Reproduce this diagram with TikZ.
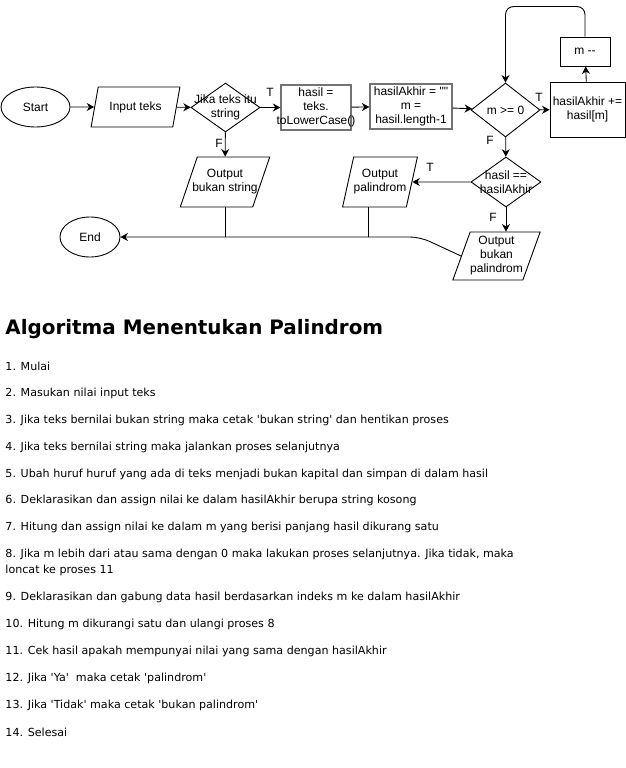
\documentclass[tikz,border=0pt]{standalone}
\usepackage{fontspec}
\setmainfont{Liberation Sans}[Ligatures=TeXOff]
\newfontfamily\listfont{DejaVu Sans}[Ligatures=TeXOff]
\usepackage{tikz}
\usetikzlibrary{positioning, shapes.geometric, arrows.meta}
\newcommand{\nw}[1]{\makebox[0pt]{#1}}

\begin{document}
\begin{tikzpicture}[x=1pt, y=-1pt, line width=0.9pt,
    every node/.style={font=\fontsize{12}{14}\selectfont},
    terminal/.style={draw, ellipse, inner sep=0pt},
    io/.style={draw, trapezium, trapezium left angle=66, trapezium right angle=114, trapezium stretches=true, inner sep=0pt, align=center},
    decision/.style={draw, diamond, inner sep=0pt, align=center},
    process/.style={draw, rectangle, inner sep=0pt, align=center},
    grayproc/.style={process, draw=black!55, line width=1.3pt},
    arrow/.style={-{Stealth[length=7.5pt, width=8pt]}},
    lbl/.style={inner sep=0pt},
    listitem/.style={anchor=west, inner sep=0pt, align=left, font=\listfont\fontsize{11.1}{16}\selectfont}]
    \useasboundingbox (0,0) rectangle (626,768);

    % Flowchart, first row
    \node[terminal, minimum width=69, minimum height=40] (start) at (35.5,107) {Start};
    \node[io, minimum width=89, minimum height=40] (input) at (135.5,107) {Input teks};
    \node[decision, minimum width=69, minimum height=49] (isstr) at (225.5,107.5) {\nw{Jika teks itu}\\\nw{string}};
    \node[grayproc, minimum width=70, minimum height=45] (lower) at (316,107.5) {hasil =\\teks.\\\nw{toLowerCase()}};
    \node[grayproc, minimum width=82, minimum height=45] (init) at (411,106.5) {\nw{hasilAkhir = ""}\\m =\\\nw{hasil.length-1}};
    \node[decision, minimum width=69, minimum height=54] (loopchk) at (505.5,110) {m >= 0};
    \node[process, minimum width=75, minimum height=55] (append) at (587.5,109.5) {\nw{hasilAkhir +=}\\hasil[m]};
    \node[process, minimum width=50, minimum height=29] (decr) at (585,51.5) {m -{}-};

    % Flowchart, lower part
    \node[io, minimum width=90, minimum height=50] (nostr) at (225,182) {Output\\\nw{bukan string}};
    \node[decision, minimum width=70, minimum height=50] (cmp) at (506,182) {\nw{hasil ==}\\\nw{hasilAkhir}};
    \node[io, minimum width=74, minimum height=50] (palin) at (380,182) {Output\\palindrom};
    \node[io, minimum width=87, minimum height=48] (notpalin) at (496.5,256) {Output\\bukan\\palindrom};
    \node[terminal, minimum width=60, minimum height=40] (end) at (90,237) {End};
    \coordinate (bend) at (420,237);

    % Branch labels
    \node[lbl] (t1) at (270,92) {T};
    \node[lbl] (f1) at (219,143) {F};
    \node[lbl] (t2) at (539,97) {T};
    \node[lbl] (f2) at (490,140) {F};
    \node[lbl] (t3) at (430,167) {T};
    \node[lbl] (f3) at (493,217) {F};

    % Connectors
    \draw[arrow] (start) -- (input);
    \draw[arrow] (input) -- (isstr);
    \draw[arrow] (isstr) -- (lower);
    \draw[arrow] (isstr) -- (nostr);
    \draw[arrow] (lower) -- (init);
    \draw[arrow] (init) -- (loopchk);
    \draw[arrow] (loopchk) -- (append);
    \draw[arrow] (append) -- (decr);
    \draw[arrow, rounded corners=8pt] (decr.north) -- ++(0,-30) -| (loopchk.north);
    \draw[arrow] (loopchk) -- (cmp);
    \draw[arrow] (cmp) -- (palin);
    \draw[arrow] (cmp.south) -- (cmp.south |- notpalin.north);
    \draw[arrow, rounded corners=10pt] (notpalin.west) -- (bend) -- (end);
    \draw (nostr.south) -- (nostr.south |- end);
    \draw ([xshift=-12pt]palin.south) -- ([xshift=-12pt]palin.south |- end);

    % Algorithm text
    \node[anchor=west, inner sep=0pt, font=\listfont\bfseries\fontsize{19.9}{24}\selectfont] (title) at (5,329) {Algoritma Menentukan Palindrom};
    \foreach \y/\txt [count=\i] in {366/{1. Mulai},
        393/{2. Masukan nilai input teks},
        420/{3. Jika teks bernilai bukan string maka cetak 'bukan string' dan hentikan proses},
        447/{4. Jika teks bernilai string maka jalankan proses selanjutnya},
        474/{5. Ubah huruf huruf yang ada di teks menjadi bukan kapital dan simpan di dalam hasil},
        500/{6. Deklarasikan dan assign nilai ke dalam hasilAkhir berupa string kosong},
        527/{7. Hitung dan assign nilai ke dalam m yang berisi panjang hasil dikurang satu},
        562/{8. Jika m lebih dari atau sama dengan 0 maka lakukan proses selanjutnya. Jika tidak, maka\\loncat ke proses 11},
        597/{9. Deklarasikan dan gabung data hasil berdasarkan indeks m ke dalam hasilAkhir},
        624/{10. Hitung m dikurangi satu dan ulangi proses 8},
        651/{11. Cek hasil apakah mempunyai nilai yang sama dengan hasilAkhir},
        678/{12. Jika 'Ya'\ \ maka cetak 'palindrom'},
        705/{13. Jika 'Tidak' maka cetak 'bukan palindrom'},
        732/{14. Selesai}}
        \node[listitem] (step\i) at (5,\y) {\txt};
\end{tikzpicture}
\end{document}
